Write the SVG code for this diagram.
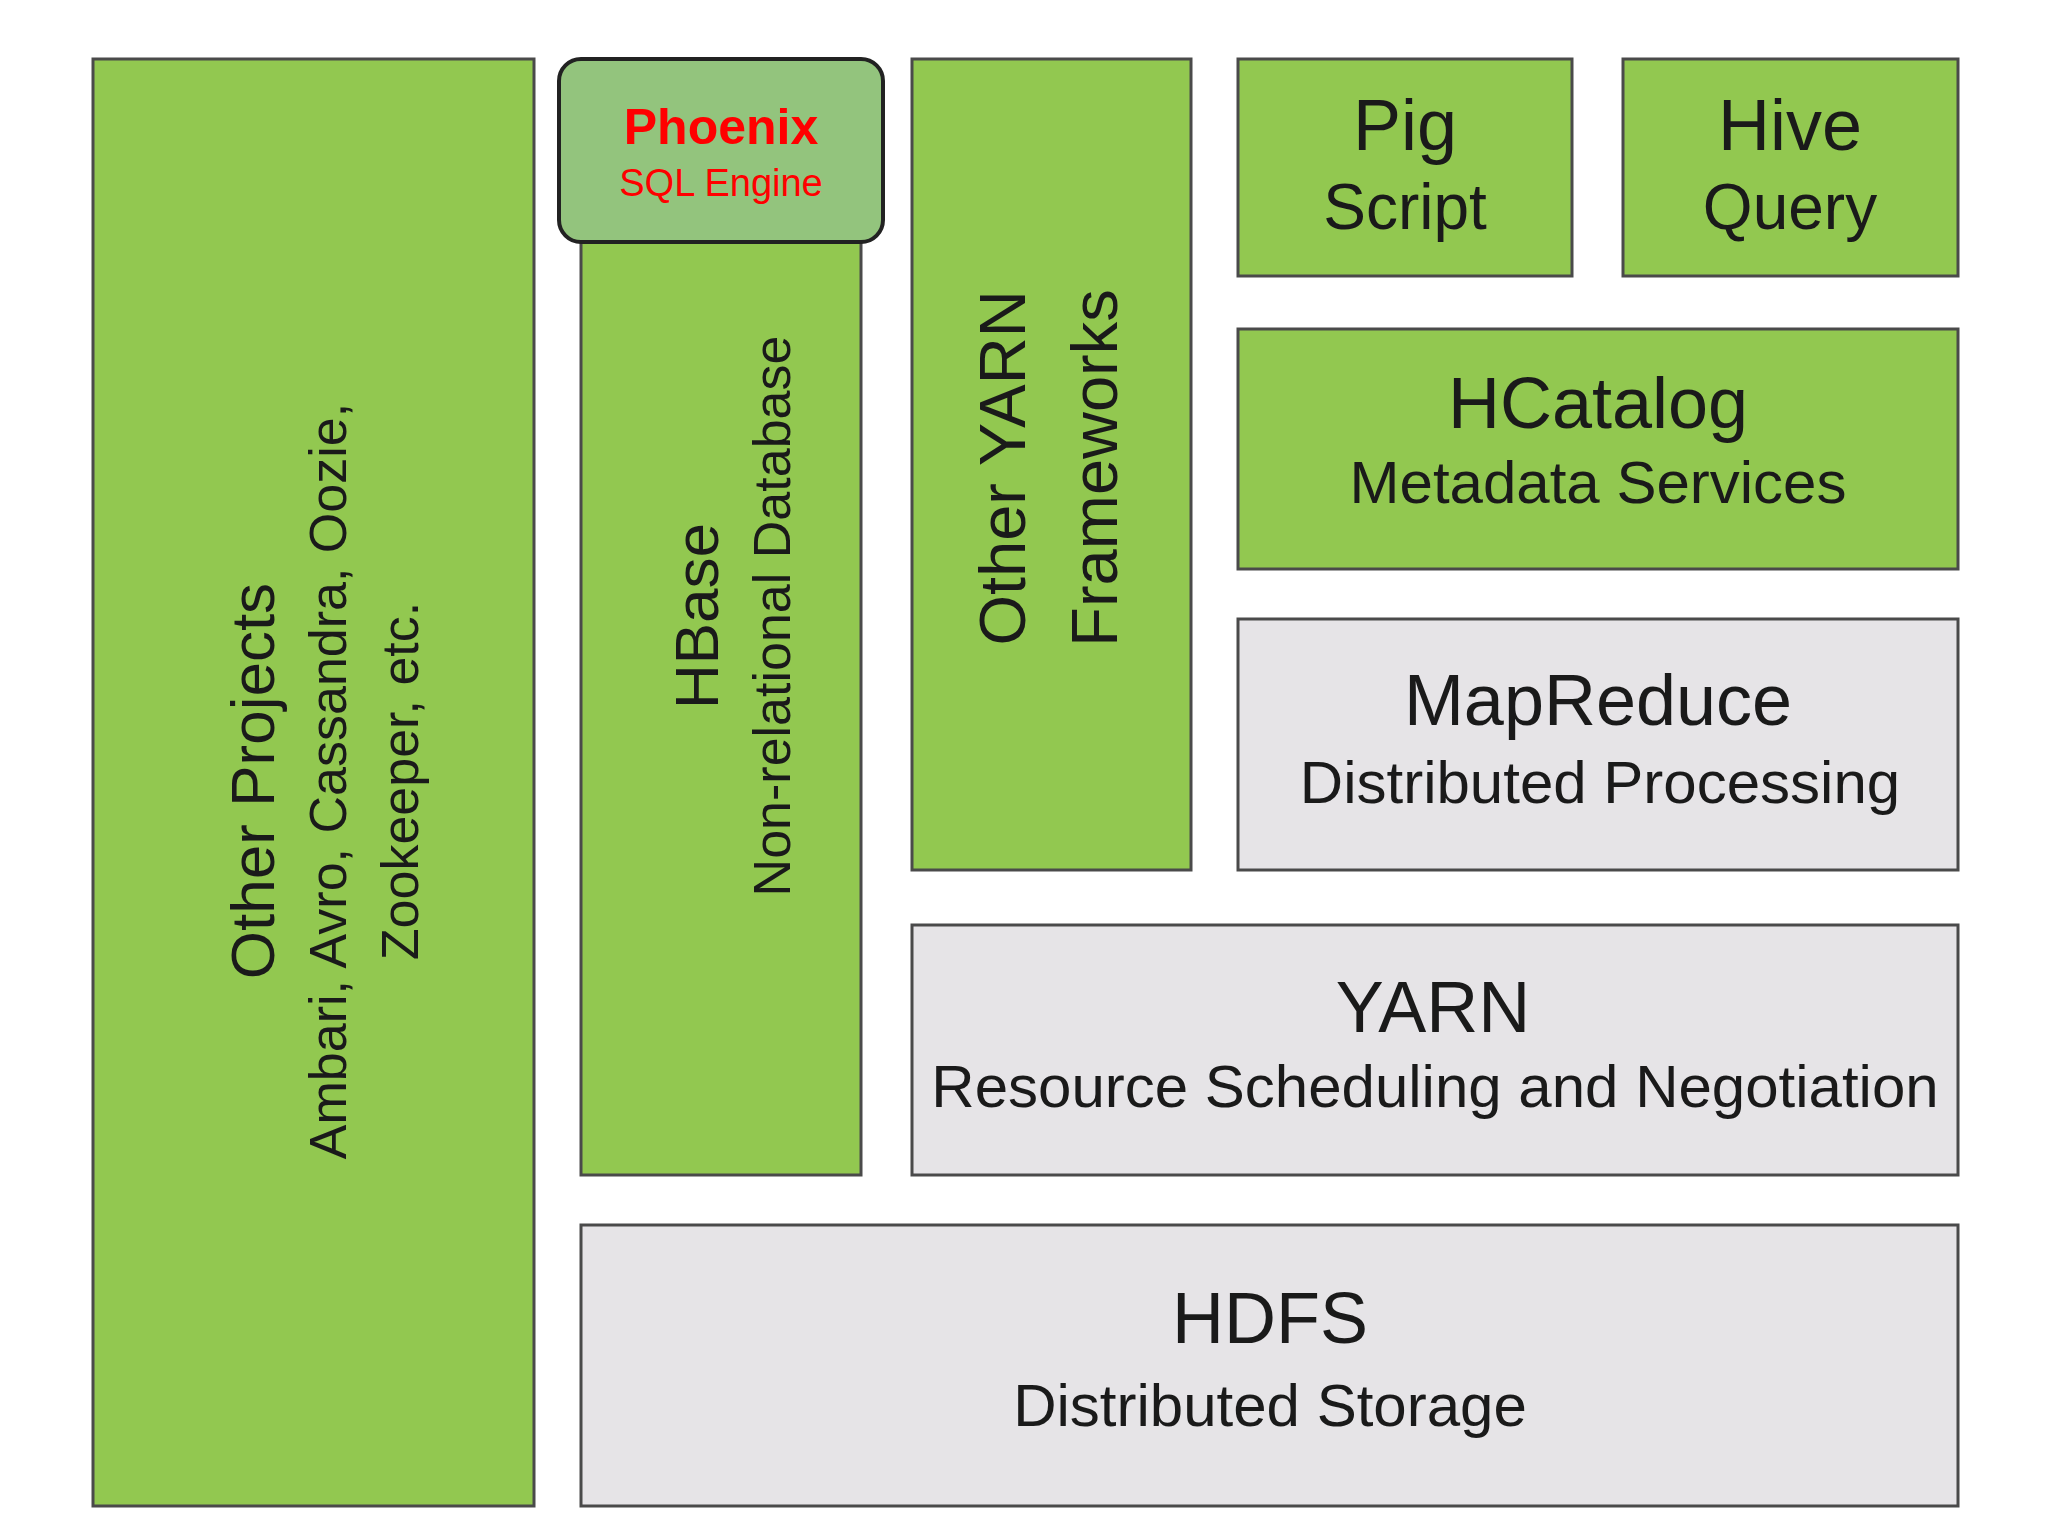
<svg xmlns="http://www.w3.org/2000/svg" width="2048" height="1536" viewBox="0 0 2048 1536">
<style>
.g{fill:#92c850;stroke:#4a4a4a;stroke-width:3}
.w{fill:#e6e4e7;stroke:#4a4a4a;stroke-width:3}
.n{font-family:"Liberation Sans Narrow","Liberation Sans",sans-serif;fill:#1a1a1a;text-anchor:middle}
.a{font-family:"Liberation Sans",Arial,sans-serif;fill:#1a1a1a;text-anchor:middle}
</style>
<rect width="2048" height="1536" fill="#fff"/>
<g id="other-projects"><rect class="g" x="93" y="59" width="441" height="1447"/>
<g transform="translate(0,781) rotate(-90)"><text class="a" x="0" y="274" font-size="62">Other Projects</text><text class="a" x="0" y="346" font-size="52">Ambari, Avro, Cassandra, Oozie,</text><text class="a" x="0" y="418" font-size="52">Zookeeper, etc.</text></g></g>
<g id="hbase"><rect class="g" x="581" y="200" width="280" height="975"/>
<g transform="translate(0,616) rotate(-90)"><text class="a" x="0" y="718" font-size="62">HBase</text><text class="a" x="0" y="790" font-size="52">Non-relational Database</text></g></g>
<g id="phoenix"><rect x="559" y="59" width="324" height="183" rx="22" fill="#93c47d" stroke="#222" stroke-width="4"/>
<text x="721" y="144" font-family="Liberation Sans,Arial,sans-serif" font-size="50" font-weight="bold" fill="#f00" text-anchor="middle">Phoenix</text>
<text x="721" y="196" font-family="Liberation Sans,Arial,sans-serif" font-size="38" fill="#f00" text-anchor="middle">SQL Engine</text></g>
<g id="other-yarn"><rect class="g" x="912" y="59" width="279" height="811"/>
<g transform="translate(0,468) rotate(-90)"><text class="a" x="0" y="1025" font-size="65">Other YARN</text><text class="a" x="0" y="1117" font-size="65">Frameworks</text></g></g>
<g id="pig"><rect class="g" x="1238" y="59" width="334" height="217"/><text class="n" x="1405" y="150" font-size="72">Pig</text><text class="n" x="1405" y="229" font-size="64">Script</text></g>
<g id="hive"><rect class="g" x="1623" y="59" width="335" height="217"/><text class="n" x="1790" y="150" font-size="72">Hive</text><text class="n" x="1790" y="229" font-size="64">Query</text></g>
<g id="hcatalog"><rect class="g" x="1238" y="329" width="720" height="240"/><text class="n" x="1598" y="428" font-size="72">HCatalog</text><text class="n" x="1598" y="503" font-size="60">Metadata Services</text></g>
<g id="mapreduce"><rect class="w" x="1238" y="619" width="720" height="251"/><text class="n" x="1598" y="725" font-size="72">MapReduce</text><text class="n" x="1600" y="803" font-size="60">Distributed Processing</text></g>
<g id="yarn"><rect class="w" x="912" y="925" width="1046" height="250"/><text class="n" x="1433" y="1032" font-size="72">YARN</text><text class="n" x="1435" y="1107" font-size="60">Resource Scheduling and Negotiation</text></g>
<g id="hdfs"><rect class="w" x="581" y="1225" width="1377" height="281"/><text class="n" x="1270" y="1343" font-size="72">HDFS</text><text class="n" x="1270" y="1426" font-size="60">Distributed Storage</text></g>
<g id="connectors"/>
</svg>
